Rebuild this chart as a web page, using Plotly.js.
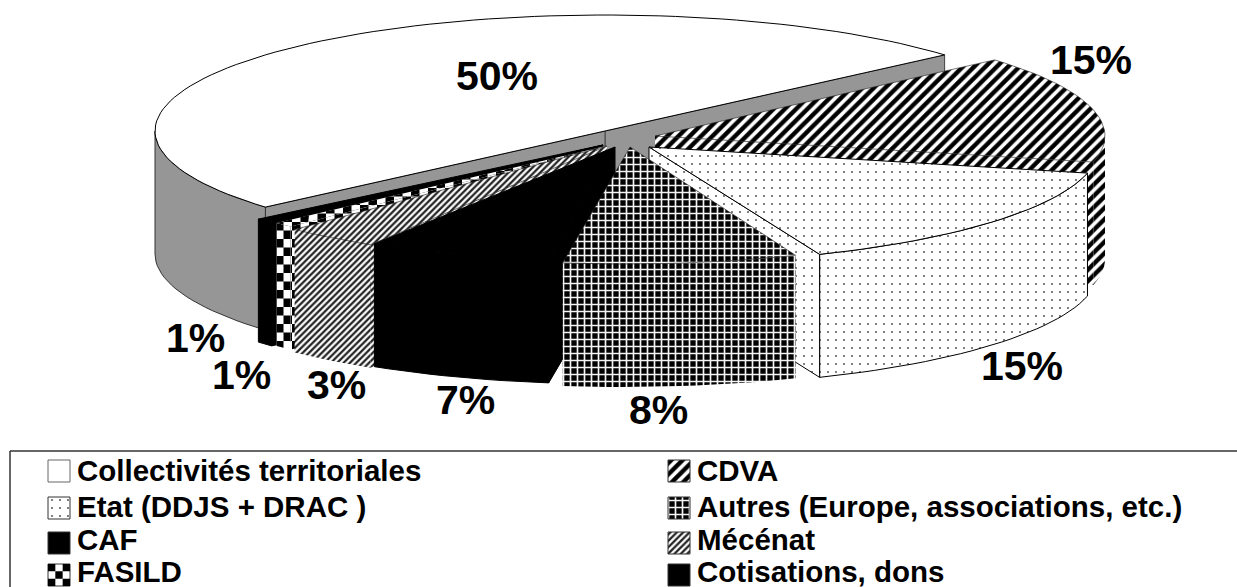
<!DOCTYPE html>
<html><head><meta charset="utf-8">
<script src="https://cdn.plot.ly/plotly-3.0.1.min.js"></script>
<style>html,body{margin:0;padding:0;background:#fff}#c{width:1237px;height:587px}</style>
</head><body><div id="c"></div>
<script>
const categories=["Collectivités territoriales","CDVA","Etat (DDJS + DRAC )","Autres (Europe, associations, etc.)","CAF","Mécénat","FASILD","Cotisations, dons"];
const shares=[50,15,15.2,8.4,6.6,3.4,0.7,0.7];
const startAngle=49;
const rimCentres=[[605,131],[655,136],[649,147],[625,148],[611,145],[607,146],[603,143],[598,143]];
const tips=[[605,131],[655,136],[649,147],[630,147],[615,147],[607,146],[606,146],[603,145]];
const labelSpots=[[497,76],[1091,60],[1022,366],[658,410],[465,400],[336,385],[241,375],[195,338]];
const legendSpots=[[77,470],[697,470],[77,506],[697,506],[77,539],[697,539],[77,571],[697,571]];
const swatchTops=[460,460,497,497,532,532,564,564];
const RX=450,RY=116,DEPTH=123,GREY='#969696',FONT='"Liberation Sans",Arial,sans-serif';
const P={
 stripeWide:{shape:'/',size:8,solidity:.55,fgcolor:'#000',bgcolor:'#fff'},
 stripeThin:{shape:'/',size:4.5,solidity:.5,fgcolor:'#222',bgcolor:'#fff'},
 grid:{shape:'+',size:7,solidity:.42,fgcolor:'#f4f4f4',bgcolor:'#000'},
 dots:{shape:'.',size:8,solidity:.05,fgcolor:'#555',bgcolor:'#fff'}
};
const looks=[{c:'#fff'},{p:P.stripeWide},{p:P.dots},{p:P.grid},{c:'#000'},{p:P.stripeThin},{check:true},{c:'#000'}];
const NOLINE={width:0},HAIR={width:.6,color:'#222'};
const wallLines=[null,NOLINE,null,NOLINE,null,NOLINE,NOLINE,null];
const topLines=[null,HAIR,null,HAIR,null,HAIR,NOLINE,null];

const spans=[];
(function(){let a=startAngle;for(let i=1;i<8;i++){spans[i]=[a,a+shares[i]*3.6];a+=shares[i]*3.6;}spans[0]=[a,a+shares[0]*3.6];})();

const rad=d=>d*Math.PI/180;
const rimPt=(i,t)=>[rimCentres[i][0]+RX*Math.sin(rad(t)),rimCentres[i][1]-RY*Math.cos(rad(t))];
function arc(i,a,b){const o=[];const n=Math.max(2,Math.ceil(Math.abs(b-a)/2));for(let k=0;k<=n;k++)o.push(rimPt(i,a+(b-a)*k/n));return o;}
const down=pts=>pts.map(p=>[p[0],p[1]+DEPTH]);
const wall=pts=>pts.concat(down(pts).reverse());
const traces=[];
function add(poly,look,name,line){
  const xs=poly.map(p=>p[0]),ys=poly.map(p=>p[1]);
  xs.push(xs[0]);ys.push(ys[0]);
  const t={type:'scatter',mode:'lines',x:xs,y:ys,fill:'toself',name:name,showlegend:false,hoverinfo:'skip',
    line:Object.assign({color:'#000',width:1},line||{}),fillcolor:look.c||'#fff'};
  if(look.p)t.fillpattern=look.p;
  traces.push(t);
}
function clip(subject,clipper){ // convex clipping of one checker cell
  let area=0;for(let i=0;i<clipper.length;i++){const a=clipper[i],b=clipper[(i+1)%clipper.length];area+=a[0]*b[1]-b[0]*a[1];}
  const s=area>0?1:-1;let out=subject;
  for(let i=0;i<clipper.length;i++){const a=clipper[i],b=clipper[(i+1)%clipper.length];
    const side=p=>s*((b[0]-a[0])*(p[1]-a[1])-(b[1]-a[1])*(p[0]-a[0]));
    const res=[];for(let j=0;j<out.length;j++){const c=out[j],d=out[(j+1)%out.length];const sc=side(c),sd=side(d);
      if(sc>=0)res.push(c);
      if((sc>=0)!==(sd>=0)){const u=sc/(sc-sd);res.push([c[0]+(d[0]-c[0])*u,c[1]+(d[1]-c[1])*u]);}
    }
    out=res;if(!out.length)break;}
  return out;
}
function checker(poly,size,ox,oy,name){
  const xs=poly.map(p=>p[0]),ys=poly.map(p=>p[1]);
  const X=[],Y=[];
  const i0=Math.floor((Math.min(...xs)-ox)/size),i1=Math.ceil((Math.max(...xs)-ox)/size);
  const j0=Math.floor((Math.min(...ys)-oy)/size),j1=Math.ceil((Math.max(...ys)-oy)/size);
  for(let i=i0;i<i1;i++)for(let j=j0;j<j1;j++){ if(((i+j)%2+2)%2)continue;
    const x=ox+i*size,y=oy+j*size;
    const c=clip([[x,y],[x+size,y],[x+size,y+size],[x,y+size]],poly);
    if(c.length>2){c.forEach(p=>{X.push(p[0]);Y.push(p[1]);});X.push(c[0][0],null);Y.push(c[0][1],null);}
  }
  traces.push({type:'scatter',mode:'lines',x:X,y:Y,fill:'toself',fillcolor:'#000',line:{width:0,color:'#000'},name:name,showlegend:false,hoverinfo:'skip'});
}
function paint(poly,look,name,line){
  add(poly,look.check?{c:'#fff'}:look,name,line);
  if(look.check)checker(poly,8.5,275,222,name);
}
// --- Collectivités: grey walls first, then its top
const [w0,w1]=spans[0];
const backA=rimPt(0,w1),backB=rimPt(0,w0),hub=tips[0];
paint(wall([backA,hub]),{c:GREY},categories[0],{color:'#444'});
paint(wall([hub,backB]),{c:GREY},categories[0],{color:'#444'});
paint(wall(arc(0,w0,270)),{c:GREY},categories[0],{color:'#333'});
paint([hub].concat(arc(0,w0,w1)),looks[0],categories[0]);
// --- the other slices, back to front; cut = which radial face shows
function slice(i,cut){
  const [a,b]=spans[i],look=looks[i],nm=categories[i],wl=wallLines[i]||{},tl=topLines[i]||{};
  // the wall only shows from the widest point of the pie round the front
  paint(wall(arc(i,Math.max(a,90),b)),look,nm,wl);
  if(cut==='start')paint(wall([tips[i],rimPt(i,a)]),look,nm,wl);
  if(cut==='end')paint(wall([tips[i],rimPt(i,b)]),look,nm,wl);
  paint([tips[i]].concat(arc(i,a,b)),look,nm,tl);
}
slice(1,'end');
slice(7,'start');
slice(6,'start');
slice(5,'start');
slice(4,'start');
slice(2,'end');
slice(3);
// --- legend swatches
legendSpots.forEach((s,i)=>{
  const x=s[0]-29,y=swatchTops[i],w=22,h=22;
  const sq=[[x,y],[x+w,y],[x+w,y+h],[x,y+h]];
  const lk=looks[i];
  add(sq,lk.check?{c:'#fff'}:lk,categories[i],{color:i===0?'#666':'#333'});
  if(lk.check)checker(sq,w/3,x,y,categories[i]);
});
const annotations=shares.map((v,i)=>({x:labelSpots[i][0],y:labelSpots[i][1],text:Math.round(v)+'%',showarrow:false,
  xanchor:'center',yanchor:'middle',font:{family:FONT,size:41,color:'#000',weight:700}}))
 .concat(categories.map((c,i)=>({x:legendSpots[i][0],y:legendSpots[i][1],text:'<b>'+c+'</b>',showarrow:false,
  xanchor:'left',yanchor:'middle',xshift:-2,font:{family:FONT,size:29.5,color:'#000'}})));
const layout={width:1237,height:587,margin:{l:0,r:0,t:0,b:0},paper_bgcolor:'#fff',plot_bgcolor:'#fff',showlegend:false,hovermode:false,
  xaxis:{range:[0,1237],visible:false,fixedrange:true},yaxis:{range:[587,0],visible:false,fixedrange:true},
  annotations:annotations,
  shapes:[{type:'line',x0:10,x1:1237,y0:451,y1:451,line:{color:'#333',width:1.5}},{type:'line',x0:10,x1:10,y0:451,y1:587,line:{color:'#333',width:1.5}}]};
Plotly.newPlot('c',traces,layout,{displayModeBar:false,staticPlot:true});
</script></body></html>
